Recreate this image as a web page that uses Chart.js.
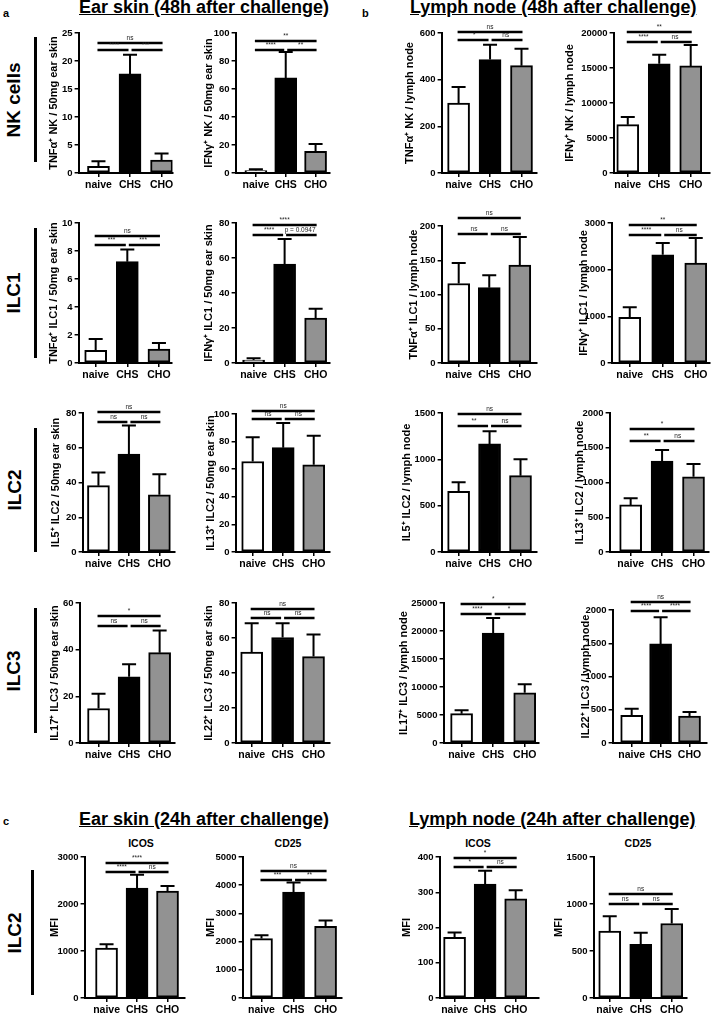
<!DOCTYPE html>
<html>
<head>
<meta charset="utf-8">
<script src="https://cdn.jsdelivr.net/npm/chart.js@4.4.1/dist/chart.umd.min.js"></script>
<style>
  body { margin: 0; width: 714px; height: 1014px; position: relative; overflow: hidden; background: #fff;
         font-family: "Liberation Sans", Arial, sans-serif; color: #000; }
  canvas { position: absolute; }
  .head { position: absolute; font-weight: bold; font-size: 18px; line-height: 18px; text-decoration: underline; white-space: nowrap; }
  .letter { position: absolute; font-weight: bold; font-size: 11px; }
  .rowlab { position: absolute; font-weight: bold; font-size: 19px; white-space: nowrap;
            transform: translate(-50%, -50%) rotate(-90deg); }
  .vline { position: absolute; width: 2.5px; background: #000; }
  .sub { position: absolute; font-weight: bold; font-size: 10.5px; transform: translate(-50%, -50%); }
</style>
</head>
<body>

<div class="letter" style="left:3px;top:7px">a</div>
<div class="letter" style="left:362px;top:7px">b</div>
<div class="letter" style="left:3px;top:815px">c</div>

<div class="head" style="left:79px;top:-2px">Ear skin (48h after challenge)</div>
<div class="head" style="left:410px;top:-2px">Lymph node (48h after challenge)</div>
<div class="head" style="left:79px;top:810px">Ear skin (24h after challenge)</div>
<div class="head" style="left:409px;top:810px">Lymph node (24h after challenge)</div>

<div class="rowlab" style="left:14px;top:100px">NK cells</div>
<div class="rowlab" style="left:14px;top:293px">ILC1</div>
<div class="rowlab" style="left:15px;top:490px">ILC2</div>
<div class="rowlab" style="left:14px;top:671px">ILC3</div>
<div class="rowlab" style="left:15px;top:933px">ILC2</div>

<div class="vline" style="left:34px;top:37px;height:125px"></div>
<div class="vline" style="left:34px;top:228px;height:130px"></div>
<div class="vline" style="left:34px;top:428px;height:124px"></div>
<div class="vline" style="left:34px;top:608px;height:125px"></div>
<div class="vline" style="left:31px;top:870px;height:125px"></div>

<div class="sub" style="left:141px;top:843px">ICOS</div>
<div class="sub" style="left:288px;top:843px">CD25</div>
<div class="sub" style="left:478px;top:843px">ICOS</div>
<div class="sub" style="left:638px;top:843px">CD25</div>

<script>
const groups = ["naive", "CHS", "CHO"];
const fills = ["#ffffff", "#000000", "#929292"];

// a: ear skin, 48h (mean, SEM, significance [naive-CHS, CHS-CHO, naive-CHO], bracket heights [top, lower])
const nkTnfEar = [1.2, 17.7, 2.3];
const nkTnfEarSem = [0.9, 3.4, 1.2];
const nkTnfEarSig = ["****", "***", "ns"];
const nkTnfEarLines = [23.3, 21.9];

const nkIfnEar = [1.8, 67.9, 15.5];
const nkIfnEarSem = [0.9, 18.5, 5.2];
const nkIfnEarSig = ["****", "**", "**"];
const nkIfnEarLines = [94, 88];

const ilc1TnfEar = [0.9, 7.24, 1.0];
const ilc1TnfEarSem = [0.81, 0.86, 0.43];
const ilc1TnfEarSig = ["***", "***", "ns"];
const ilc1TnfEarLines = [9.07, 8.43];

const ilc1IfnEar = [1.7, 56.5, 25.6];
const ilc1IfnEarSem = [1.0, 14.3, 5.4];
const ilc1IfnEarSig = ["****", "p = 0.0947", "****"];
const ilc1IfnEarLines = [78.6, 72.9];

const ilc2Il5Ear = [38.2, 56.3, 32.9];
const ilc2Il5EarSem = [7.5, 16.5, 11.9];
const ilc2Il5EarSig = ["ns", "ns", "ns"];
const ilc2Il5EarLines = [80.5, 75.1];

const ilc2Il13Ear = [65.6, 75.6, 63.2];
const ilc2Il13EarSem = [17.6, 17.8, 21.0];
const ilc2Il13EarSig = ["ns", "ns", "ns"];
const ilc2Il13EarLines = [102.5, 96.3];

const ilc3Il17Ear = [14.8, 28.4, 38.7];
const ilc3Il17EarSem = [6.3, 5.3, 9.5];
const ilc3Il17EarSig = ["ns", "ns", "*"];
const ilc3Il17EarLines = [54.3, 50.2];

const ilc3Il22Ear = [51.9, 60.3, 49.4];
const ilc3Il22EarSem = [16.6, 8.2, 12.6];
const ilc3Il22EarSig = ["ns", "ns", "ns"];
const ilc3Il22EarLines = [76.5, 71.4];

// b: lymph node, 48h
const nkTnfLn = [300, 486, 460];
const nkTnfLnSem = [69, 64, 72];
const nkTnfLnSig = ["*", "ns", "ns"];
const nkTnfLnLines = [603, 569];

const nkIfnLn = [6900, 15600, 15300];
const nkIfnLnSem = [1100, 1300, 3000];
const nkIfnLnSig = ["****", "ns", "**"];
const nkIfnLnLines = [20100, 18750];

const ilc1TnfLn = [116, 110, 143];
const ilc1TnfLnSem = [30, 18, 41];
const ilc1TnfLnSig = ["ns", "ns", "ns"];
const ilc1TnfLnLines = [211.7, 189];

const ilc1IfnLn = [981, 2319, 2141];
const ilc1IfnLnSem = [215, 251, 536];
const ilc1IfnLnSig = ["****", "ns", "**"];
const ilc1IfnLnLines = [2948, 2748];

const ilc2Il5Ln = [655, 1166, 824];
const ilc2Il5LnSem = [97, 136, 176];
const ilc2Il5LnSig = ["**", "ns", "ns"];
const ilc2Il5LnLines = [1489, 1363];

const ilc2Il13Ln = [677, 1308, 1083];
const ilc2Il13LnSem = [96, 158, 182];
const ilc2Il13LnSig = ["**", "ns", "*"];
const ilc2Il13LnLines = [1771, 1599];

const ilc3Il17Ln = [5240, 19620, 8970];
const ilc3Il17LnSem = [600, 2690, 1500];
const ilc3Il17LnSig = ["****", "*", "*"];
const ilc3Il17LnLines = [24820, 23080];

const ilc3Il22Ln = [415, 1490, 405];
const ilc3Il22LnSem = [100, 400, 60];
const ilc3Il22LnSig = ["****", "****", "ns"];
const ilc3Il22LnLines = [2120, 1985];

// c: ILC2 MFI, 24h
const icosEar = [1064, 2340, 2277];
const icosEarSem = [79, 285, 106];
const icosEarSig = ["****", "ns", "****"];
const icosEarLines = [2872, 2681];

const cd25Ear = [2106, 3759, 2543];
const cd25EarSem = [118, 333, 202];
const cd25EarSig = ["***", "**", "ns"];
const cd25EarLines = [4493, 4199];

const icosLn = [172, 323, 281];
const icosLnSem = [14, 38, 25];
const icosLnSig = ["*", "ns", "*"];
const icosLnLines = [396, 373];

const cd25Ln = [711, 572, 793];
const cd25LnSem = [160, 121, 153];
const cd25LnSig = ["ns", "ns", "ns"];
const cd25LnLines = [1106, 996];

// layout: ax/right = x axis ends, top/bottom = y of max and 0, tx = y title centre, xr = x range
const panels = [
  { mean: nkTnfEar, sem: nkTnfEarSem, sig: nkTnfEarSig, lines: nkTnfEarLines, max: 25, step: 5,
    title: "TNFα⁺ NK / 50mg ear skin", ax: 79, right: 173, top: 33, bottom: 173, tx: 54, xr: [-0.63, 2.35] },
  { mean: nkIfnEar, sem: nkIfnEarSem, sig: nkIfnEarSig, lines: nkIfnEarLines, max: 100, step: 20,
    title: "IFNγ⁺ NK / 50mg ear skin", ax: 236, right: 330, top: 33, bottom: 173, tx: 209, xr: [-0.68, 2.47] },
  { mean: nkTnfLn, sem: nkTnfLnSem, sig: nkTnfLnSig, lines: nkTnfLnLines, max: 600, step: 200,
    title: "TNFα⁺ NK / lymph node", ax: 442, right: 537, top: 33, bottom: 173, tx: 410, xr: [-0.54, 2.48] },
  { mean: nkIfnLn, sem: nkIfnLnSem, sig: nkIfnLnSig, lines: nkIfnLnLines, max: 20000, step: 5000,
    title: "IFNγ⁺ NK / lymph node", ax: 614, right: 710, top: 33, bottom: 173, tx: 570, xr: [-0.45, 2.6] },

  { mean: ilc1TnfEar, sem: ilc1TnfEarSem, sig: ilc1TnfEarSig, lines: ilc1TnfEarLines, max: 10, step: 2,
    title: "TNFα⁺ ILC1 / 50mg ear skin", ax: 79, right: 172, top: 223, bottom: 363, tx: 54, xr: [-0.54, 2.4] },
  { mean: ilc1IfnEar, sem: ilc1IfnEarSem, sig: ilc1IfnEarSig, lines: ilc1IfnEarLines, max: 80, step: 20,
    title: "IFNγ⁺ ILC1 / 50mg ear skin", ax: 236, right: 330, top: 223, bottom: 363, tx: 209, xr: [-0.58, 2.45] },
  { mean: ilc1TnfLn, sem: ilc1TnfLnSem, sig: ilc1TnfLnSig, lines: ilc1TnfLnLines, max: 200, step: 50,
    title: "TNFα⁺ ILC1 / lymph node", ax: 442, right: 537, top: 226, bottom: 363, tx: 414, xr: [-0.56, 2.55] },
  { mean: ilc1IfnLn, sem: ilc1IfnLnSem, sig: ilc1IfnLnSig, lines: ilc1IfnLnLines, max: 3000, step: 1000,
    title: "IFNγ⁺ ILC1 / lymph node", ax: 612, right: 710, top: 223, bottom: 363, tx: 584, xr: [-0.55, 2.42] },

  { mean: ilc2Il5Ear, sem: ilc2Il5EarSem, sig: ilc2Il5EarSig, lines: ilc2Il5EarLines, max: 80, step: 20,
    title: "IL5⁺ ILC2 / 50mg ear skin", ax: 83, right: 175, top: 413, bottom: 552, tx: 56, xr: [-0.52, 2.5] },
  { mean: ilc2Il13Ear, sem: ilc2Il13EarSem, sig: ilc2Il13EarSig, lines: ilc2Il13EarLines, max: 100, step: 20,
    title: "IL13⁺ ILC2 / 50mg ear skin", ax: 236, right: 330, top: 414, bottom: 552, tx: 211, xr: [-0.56, 2.52] },
  { mean: ilc2Il5Ln, sem: ilc2Il5LnSem, sig: ilc2Il5LnSig, lines: ilc2Il5LnLines, max: 1500, step: 500,
    title: "IL5⁺ ILC2 / lymph node", ax: 442, right: 537, top: 413, bottom: 552, tx: 407, xr: [-0.55, 2.52] },
  { mean: ilc2Il13Ln, sem: ilc2Il13LnSem, sig: ilc2Il13LnSig, lines: ilc2Il13LnLines, max: 2000, step: 500,
    title: "IL13⁺ ILC2 / lymph node", ax: 610, right: 709, top: 413, bottom: 552, tx: 580, xr: [-0.67, 2.48] },

  { mean: ilc3Il17Ear, sem: ilc3Il17EarSem, sig: ilc3Il17EarSig, lines: ilc3Il17EarLines, max: 60, step: 20,
    title: "IL17⁺ ILC3 / 50mg ear skin", ax: 80, right: 175, top: 603, bottom: 743, tx: 55, xr: [-0.62, 2.49] },
  { mean: ilc3Il22Ear, sem: ilc3Il22EarSem, sig: ilc3Il22EarSig, lines: ilc3Il22EarLines, max: 80, step: 20,
    title: "IL22⁺ ILC3 / 50mg ear skin", ax: 236, right: 330, top: 603, bottom: 743, tx: 209, xr: [-0.52, 2.52] },
  { mean: ilc3Il17Ln, sem: ilc3Il17LnSem, sig: ilc3Il17LnSig, lines: ilc3Il17LnLines, max: 25000, step: 5000,
    title: "IL17⁺ ILC3 / lymph node", ax: 444, right: 539, top: 603, bottom: 743, tx: 404, xr: [-0.57, 2.44] },
  { mean: ilc3Il22Ln, sem: ilc3Il22LnSem, sig: ilc3Il22LnSig, lines: ilc3Il22LnLines, max: 2000, step: 500,
    title: "IL22⁺ ILC3 / lymph node", ax: 613, right: 707, top: 610, bottom: 743, tx: 586, xr: [-0.66, 2.59] },

  { mean: icosEar, sem: icosEarSem, sig: icosEarSig, lines: icosEarLines, max: 3000, step: 1000,
    title: "MFI", ax: 85, right: 185, top: 857, bottom: 998, tx: 55, xr: [-0.72, 2.56] },
  { mean: cd25Ear, sem: cd25EarSem, sig: cd25EarSig, lines: cd25EarLines, max: 5000, step: 1000,
    title: "MFI", ax: 243, right: 342, top: 857, bottom: 998, tx: 211, xr: [-0.59, 2.5] },
  { mean: icosLn, sem: icosLnSem, sig: icosLnSig, lines: icosLnLines, max: 400, step: 100,
    title: "MFI", ax: 440, right: 539, top: 857, bottom: 998, tx: 407, xr: [-0.49, 2.75] },
  { mean: cd25Ln, sem: cd25LnSem, sig: cd25LnSig, lines: cd25LnLines, max: 1500, step: 500,
    title: "MFI", ax: 594, right: 687, top: 857, bottom: 998, tx: 559, xr: [-0.52, 2.48] },
];

const FONT = "'Liberation Sans', Arial, sans-serif";
Chart.defaults.font.family = FONT;
Chart.defaults.color = "#000";

const PT = 34, PR = 8, XH = 20, TITLE = 11;

// error whiskers + significance brackets
function makeMarks(p) {
  return {
    id: "marks",
    afterDatasetsDraw(chart) {
      const { ctx } = chart;
      const x = chart.scales.x, y = chart.scales.y;
      ctx.save();
      ctx.strokeStyle = "#000";
      ctx.lineWidth = 2;
      p.mean.forEach((m, i) => {
        const cx = x.getPixelForValue(i);
        const y0 = y.getPixelForValue(m);
        const y1 = y.getPixelForValue(m + p.sem[i]);
        ctx.beginPath();
        ctx.moveTo(cx, y0);
        ctx.lineTo(cx, y1);
        ctx.moveTo(cx - 7, y1);
        ctx.lineTo(cx + 7, y1);
        ctx.stroke();
      });

      const x0 = x.getPixelForValue(0), x1 = x.getPixelForValue(1), x2 = x.getPixelForValue(2);
      const yh = Math.round(y.getPixelForValue(p.lines[0]));
      const yl = Math.round(y.getPixelForValue(p.lines[1]));
      ctx.lineWidth = 2.5;
      ctx.beginPath();
      ctx.moveTo(x0 - 1, yl); ctx.lineTo(x1 - 1.5, yl);
      ctx.moveTo(x1 + 1.5, yl); ctx.lineTo(x2 + 1, yl);
      ctx.moveTo(x0 - 1, yh); ctx.lineTo(x2 + 1, yh);
      ctx.stroke();

      ctx.fillStyle = "#222";
      ctx.font = "6.5px " + FONT;
      ctx.textAlign = "center";
      ctx.textBaseline = "bottom";
      ctx.fillText(p.sig[0], (x0 + x1) / 2, yl - 1.5);
      ctx.fillText(p.sig[1], (x1 + x2) / 2, yl - 1.5);
      ctx.fillText(p.sig[2], (x0 + x2) / 2, yh - 1.5);
      ctx.restore();
    }
  };
}

panels.forEach((p) => {
  const W = p.ax - p.tx + TITLE * 0.6;
  const plotW = p.right - p.ax, plotH = p.bottom - p.top;
  const cv = document.createElement("canvas");
  cv.width = Math.round(W + plotW + PR);
  cv.height = Math.round(PT + plotH + XH);
  cv.style.left = (p.ax - W) + "px";
  cv.style.top = (p.top - PT) + "px";
  document.body.appendChild(cv);

  new Chart(cv, {
    type: "bar",
    data: {
      datasets: [{
        data: p.mean.map((v, i) => ({ x: i, y: v })),
        backgroundColor: fills,
        borderColor: "#000",
        borderWidth: 2,
        borderSkipped: false,
        barThickness: 22,
      }],
    },
    options: {
      responsive: false,
      animation: false,
      devicePixelRatio: 1,
      layout: { padding: { top: PT, right: cv.width - W - plotW, left: 0, bottom: 0 } },
      plugins: { legend: { display: false }, tooltip: { enabled: false } },
      scales: {
        x: {
          type: "linear",
          offset: false,
          min: p.xr[0],
          max: p.xr[1],
          afterBuildTicks: (s) => { s.ticks = groups.map((g, i) => ({ value: i })); },
          afterFit: (s) => { s.height = XH; },
          ticks: { callback: (v) => groups[v], font: { size: 10.5, weight: "bold" }, padding: 2, maxRotation: 0, autoSkip: false },
          grid: { offset: false, drawOnChartArea: false, tickLength: 4, color: "#000", lineWidth: 1.5 },
          border: { color: "#000", width: 2 },
        },
        y: {
          min: 0,
          max: p.max,
          afterFit: (s) => { s.width = W; },
          ticks: { stepSize: p.step, callback: (v) => v, font: { size: 9.5, weight: "bold" }, padding: 2 },
          grid: { drawOnChartArea: false, tickLength: 4, color: "#000", lineWidth: 1.5 },
          border: { color: "#000", width: 2 },
          title: { display: true, text: p.title, font: { size: TITLE, weight: "bold" }, padding: 0 },
        },
      },
    },
    plugins: [makeMarks(p)],
  });
});
</script>
</body>
</html>
